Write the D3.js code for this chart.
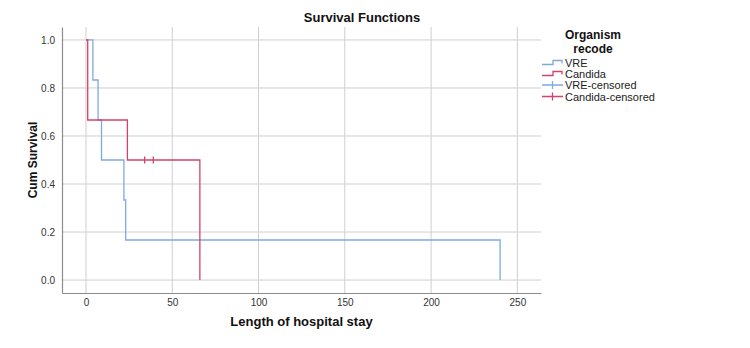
<!DOCTYPE html>
<html>
<head>
<meta charset="utf-8">
<script src="https://cdn.jsdelivr.net/npm/d3@7"></script>
<style>
  body { margin: 0; background: #fff; }
  text { font-family: "Liberation Sans", Arial, sans-serif; }
</style>
</head>
<body>
<div id="chart"></div>
<script>
// Kaplan-Meier step values
const vreTimes = [0, 4, 7, 9, 22, 23, 240];
const vreSurv = [1, 0.8333, 0.6667, 0.5, 0.3333, 0.1667, 0];
const candidaTimes = [0, 1, 24, 66];
const candidaSurv = [1, 0.6667, 0.5, 0];
const candidaCensoredTimes = [34, 39];
const candidaCensoredSurv = [0.5, 0.5];
const xTicks = [0, 50, 100, 150, 200, 250];
const yTicks = [0, 0.2, 0.4, 0.6, 0.8, 1.0];
const legendLabels = ["VRE", "Candida", "VRE-censored", "Candida-censored"];

const W = 750, H = 348;
const margin = {top: 27, right: 209, bottom: 55, left: 62};
const width = W - margin.left - margin.right;
const height = H - margin.top - margin.bottom;

const blue = "#7fa9e2", red = "#d3426a";

const svg = d3.select("#chart").append("svg")
    .attr("width", W)
    .attr("height", H);

const g = svg.append("g")
    .attr("transform", "translate(" + margin.left + "," + margin.top + ")");

const x = d3.scaleLinear().domain([-13.9, 263.7]).range([0, width]);
const y = d3.scaleLinear().domain([-0.054, 1.054]).range([height, 0]);

// grid lines
g.append("g").selectAll("line.vg")
    .data(xTicks).enter().append("line")
    .attr("x1", d => x(d)).attr("x2", d => x(d))
    .attr("y1", 0).attr("y2", height)
    .attr("stroke", "#cfcfcf").attr("stroke-width", 1);

g.append("g").selectAll("line.hg")
    .data(yTicks).enter().append("line")
    .attr("x1", 0).attr("x2", width)
    .attr("y1", d => y(d)).attr("y2", d => y(d))
    .attr("stroke", "#cfcfcf").attr("stroke-width", 1);

// axes
const xAxis = g.append("g")
    .attr("transform", "translate(0," + height + ")")
    .call(d3.axisBottom(x).tickValues(xTicks).tickSize(0).tickPadding(6).tickFormat(d3.format("d")));
const yAxis = g.append("g")
    .call(d3.axisLeft(y).tickValues(yTicks).tickSize(0).tickPadding(7).tickFormat(d3.format(".1f")));

[xAxis, yAxis].forEach(a => {
    a.select(".domain").attr("stroke", "#8c8c8c").attr("stroke-width", 1.2);
    a.selectAll("text")
        .attr("font-family", "Liberation Sans, Arial, sans-serif")
        .attr("font-size", 10)
        .attr("fill", "#333");
});

// survival curves
const line = d3.line()
    .x(d => x(d[0]))
    .y(d => y(d[1]))
    .curve(d3.curveStepAfter);

g.append("path")
    .datum(vreTimes.map((t, i) => [t, vreSurv[i]]))
    .attr("d", line)
    .attr("fill", "none")
    .attr("stroke", blue)
    .attr("stroke-width", 1.3);

g.append("path")
    .datum(candidaTimes.map((t, i) => [t, candidaSurv[i]]))
    .attr("d", line)
    .attr("fill", "none")
    .attr("stroke", red)
    .attr("stroke-width", 1.3);

// censored marks
g.append("g").selectAll("line")
    .data(candidaCensoredTimes.map((t, i) => [t, candidaCensoredSurv[i]]))
    .enter().append("line")
    .attr("x1", d => x(d[0])).attr("x2", d => x(d[0]))
    .attr("y1", d => y(d[1]) - 3.5).attr("y2", d => y(d[1]) + 3.5)
    .attr("stroke", red).attr("stroke-width", 1.3);

// titles
svg.append("text")
    .attr("x", 362).attr("y", 22)
    .attr("text-anchor", "middle")
    .attr("font-size", 13).attr("font-weight", "bold")
    .attr("fill", "#111")
    .text("Survival Functions");

svg.append("text")
    .attr("x", margin.left + width / 2).attr("y", 326)
    .attr("text-anchor", "middle")
    .attr("font-size", 13).attr("font-weight", "bold")
    .attr("fill", "#111")
    .text("Length of hospital stay");

svg.append("text")
    .attr("transform", "translate(37," + (margin.top + height / 2) + ") rotate(-90)")
    .attr("text-anchor", "middle")
    .attr("font-size", 12).attr("font-weight", "bold")
    .attr("fill", "#111")
    .text("Cum Survival");

// legend
const legend = svg.append("g");
legend.append("text")
    .attr("x", 593).attr("y", 39)
    .attr("text-anchor", "middle")
    .attr("font-size", 12).attr("font-weight", "bold")
    .attr("fill", "#111")
    .text("Organism");
legend.append("text")
    .attr("x", 593).attr("y", 53)
    .attr("text-anchor", "middle")
    .attr("font-size", 12).attr("font-weight", "bold")
    .attr("fill", "#111")
    .text("recode");

const legendColors = [blue, red, blue, red];
const legendY = [62.5, 73.5, 85, 96.5];

legendLabels.forEach((lab, i) => {
    const ly = legendY[i];
    if (i < 2) {
        legend.append("path")
            .attr("d", `M542,${ly + 2}H553V${ly - 2}H562V${ly + 1}`)
            .attr("fill", "none")
            .attr("stroke", legendColors[i]).attr("stroke-width", 1.3);
    } else {
        legend.append("path")
            .attr("d", `M542,${ly}H563M552.5,${ly - 4}V${ly + 4}`)
            .attr("fill", "none")
            .attr("stroke", legendColors[i]).attr("stroke-width", 1.3);
    }
    legend.append("text")
        .attr("x", 565).attr("y", ly + 4)
        .attr("font-size", 11)
        .attr("fill", "#222")
        .text(lab);
});
</script>
</body>
</html>
